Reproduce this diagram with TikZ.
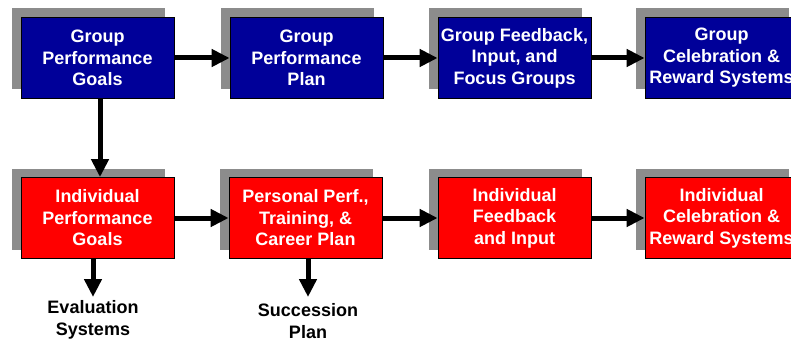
\documentclass[tikz,border=0pt]{standalone}
\usepackage{fontspec}
\setmainfont{Liberation Sans}
\usetikzlibrary{arrows.meta,shadows}
\definecolor{grpblue}{RGB}{0,0,153}
\definecolor{indred}{RGB}{255,0,0}
\definecolor{shadowgray}{RGB}{140,140,140}

\begin{document}
\begin{tikzpicture}[x=1pt,y=-1pt,
        box/.style={draw=black,line width=0.8pt,minimum width=153pt,minimum height=81pt,
            inner sep=0pt,align=center,text=white,font=\fontsize{18}{21.5}\selectfont\bfseries,
            drop shadow={shadow xshift=-9pt,shadow yshift=9pt,fill=shadowgray,opacity=1}},
        group/.style={box,fill=grpblue},
        indiv/.style={box,fill=indred},
        outcome/.style={align=center,inner sep=0pt,font=\fontsize{18}{21.5}\selectfont\bfseries},
        flow/.style={line width=5pt,-{Triangle[length=18pt,width=17pt]}}]
        \useasboundingbox (0,0) rectangle (791,339);
        \clip (0,0) rectangle (791,339);

        % group row
        \node[group] (g1) at (97.5,58) {Group\\Performance\\Goals};
        \node[group] (g2) at (306.5,58) {Group\\Performance\\Plan};
        \node[group] (g3) at (514.5,58) {Group Feedback,\\Input, and\\Focus Groups};
        \node[group] (g4) at (721.5,58) {Group\\Celebration \&\\Reward Systems};

        % individual row
        \node[indiv] (i1) at (97.5,218) {Individual\\Performance\\Goals};
        \node[indiv] (i2) at (305.5,218) {Personal Perf.,\\Training, \&\\Career Plan};
        \node[indiv] (i3) at (514.5,218) {Individual\\Feedback\\and Input};
        \node[indiv] (i4) at (721.5,218) {Individual\\Celebration \&\\Reward Systems};

        % outcomes
        \coordinate (evaltip) at (93,297);
        \coordinate (succtip) at (308,297);
        \node[outcome] (eval) at (93,320) {Evaluation\\Systems};
        \node[outcome] (succ) at (308,321) {Succession\\Plan};

        \path [flow] (g1) edge (g2);
        \path [flow] (g2) edge (g3);
        \path [flow] (g3) edge (g4);
        \path [flow] (i1) edge (i2);
        \path [flow] (i2) edge (i3);
        \path [flow] (i3) edge (i4);

        \path [flow] ([xshift=2.5pt]g1.south) edge ([xshift=2.5pt]i1.north);
        \path [flow] (i1.south -| evaltip) edge (evaltip);
        \path [flow] (i2.south -| succtip) edge (succtip);
    \end{tikzpicture}
\end{document}
